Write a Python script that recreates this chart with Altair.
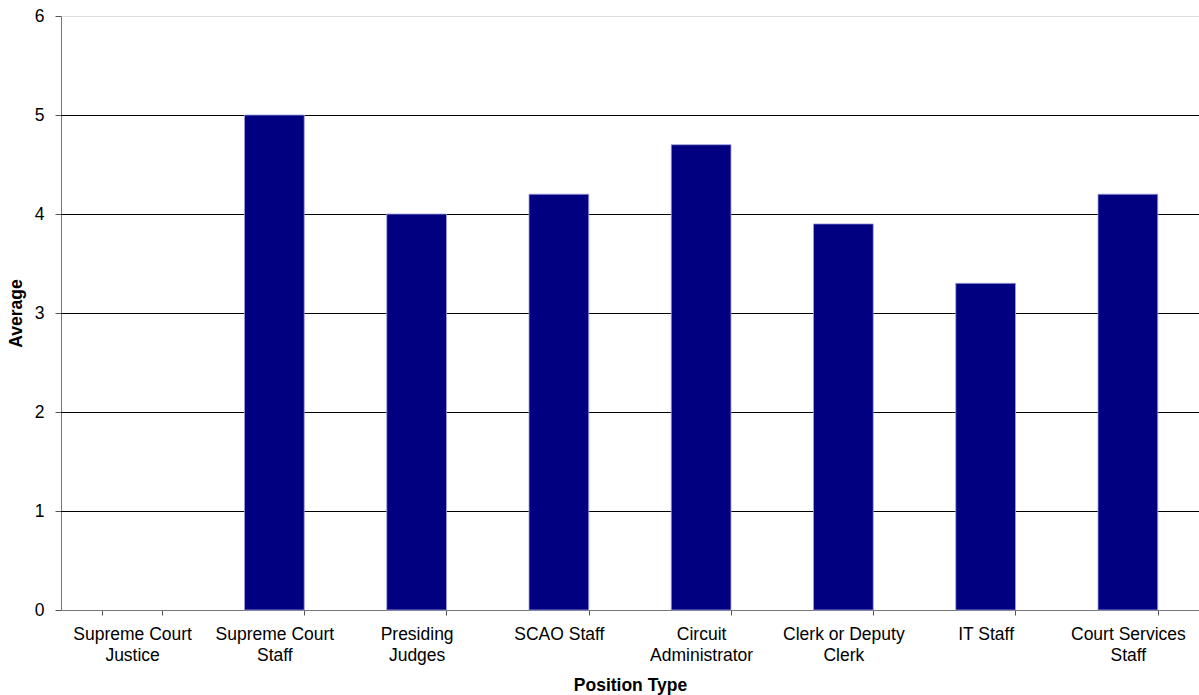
import altair as alt
import pandas as pd

# Average rating by position type
categories = [
    "Supreme Court Justice",
    "Supreme Court Staff",
    "Presiding Judges",
    "SCAO Staff",
    "Circuit Administrator",
    "Clerk or Deputy Clerk",
    "IT Staff",
    "Court Services Staff",
]
label_lines = [
    ["Supreme Court", "Justice"],
    ["Supreme Court", "Staff"],
    ["Presiding", "Judges"],
    ["SCAO Staff"],
    ["Circuit", "Administrator"],
    ["Clerk or Deputy", "Clerk"],
    ["IT Staff"],
    ["Court Services", "Staff"],
]
averages = [0, 5.0, 4.0, 4.2, 4.7, 3.9, 3.3, 4.2]
grid_values = [1, 2, 3, 4, 5]

df = pd.DataFrame({"Position Type": categories, "Average": averages})
grid_df = pd.DataFrame({"v": grid_values})

# Map each category to its wrapped multi-line label
label_expr = " : ".join(
    f"datum.label == '{c}' ? {lines!r}" for c, lines in zip(categories, label_lines)
) + " : datum.label"

FONT = "Liberation Sans"
LABEL_SIZE = 17.5
TITLE_SIZE = 17.5

x_enc = alt.X(
    "Position Type:N",
    sort=categories,
    scale=alt.Scale(paddingInner=0.58, paddingOuter=0.29),
    axis=alt.Axis(
        title="Position Type",
        labelAngle=0,
        labelExpr=label_expr,
        labelFont=FONT,
        labelFontSize=LABEL_SIZE,
        labelColor="#000000",
        labelPadding=10,
        labelLineHeight=21,
        labelBaseline="top",
        tickBand="extent",
        tickSize=5,
        tickColor="#555555",
        domainColor="#777777",
        titleFont=FONT,
        titleFontSize=TITLE_SIZE,
        titleFontWeight="bold",
        titleColor="#000000",
        titlePadding=13,
        grid=False,
    ),
)

bars = alt.Chart(df).mark_bar(
    color="#000080", stroke="#a0a0e0", strokeWidth=0.8
).encode(
    x=x_enc,
    y=alt.Y(
        "Average:Q",
        scale=alt.Scale(domain=[0, 6], nice=False),
        axis=alt.Axis(
            title="Average",
            values=[0, 1, 2, 3, 4, 5, 6],
            format="d",
            grid=False,
            labelFont=FONT,
            labelFontSize=LABEL_SIZE,
            labelColor="#000000",
            labelPadding=11,
            tickSize=6,
            tickColor="#555555",
            domainColor="#777777",
            titleFont=FONT,
            titleFontSize=TITLE_SIZE,
            titleFontWeight="bold",
            titleColor="#000000",
            titlePadding=9,
        ),
    ),
    strokeOpacity=alt.condition("datum.Average > 0", alt.value(1), alt.value(0)),
)

# Horizontal gridlines, nudged half a pixel so they render crisp
grid = alt.Chart(grid_df).mark_rule(
    color="#000000", strokeWidth=1, yOffset=0.5
).encode(
    y=alt.Y("v:Q", scale=alt.Scale(domain=[0, 6], nice=False))
)

chart = (
    alt.layer(grid, bars)
    .properties(
        width=1138,
        height=594,
        autosize=alt.AutoSizeParams(type="none"),
        padding={"left": 61, "top": 16, "right": 0, "bottom": 85},
    )
    .configure_view(strokeOpacity=0)
    .configure(background="#ffffff")
)

chart.save("out.html", embed_options={"renderer": "svg", "actions": False})
